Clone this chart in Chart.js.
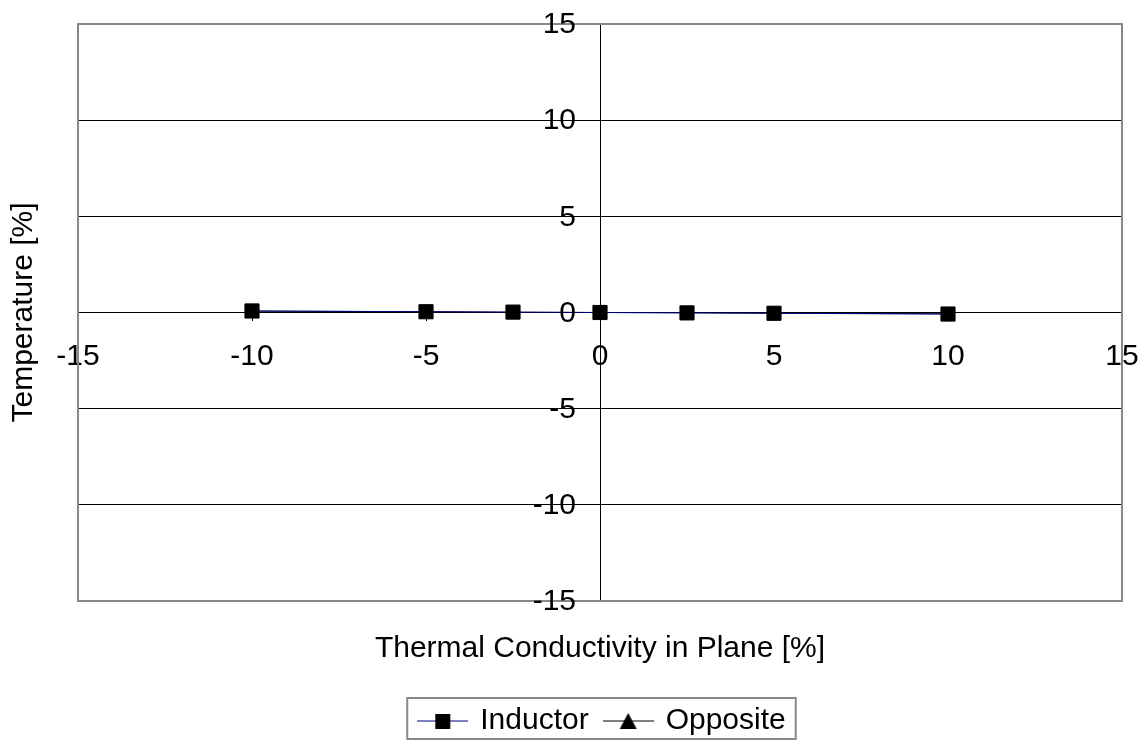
<!DOCTYPE html>
<html>
<head>
<meta charset="utf-8">
<script src="https://cdn.jsdelivr.net/npm/chart.js@4/dist/chart.umd.min.js"></script>
<style>
  html, body { margin: 0; padding: 0; background: #fff; }
  #wrap { width: 1146px; height: 740px; }
</style>
</head>
<body>
<div id="wrap"><canvas id="chart" width="1146" height="740"></canvas></div>
<script>
// change in thermal conductivity in plane [%]
const conductivity = [-10, -5, -2.5, 0, 2.5, 5, 10];
// resulting temperature change [%]
const inductor = [0.08, 0.04, 0.02, 0, -0.02, -0.04, -0.08];
const opposite = [0.07, 0.04, 0.01, 0, -0.01, -0.03, -0.07];

const axisMin = -15;
const axisMax = 15;
const axisStep = 5;

const FONT = "'Liberation Sans', Arial, sans-serif";

function points(ys) {
    return conductivity.map((x, i) => ({ x: x, y: ys[i] }));
}

// legend swatch: short line with the marker in the middle
function swatch(lineColor, shape) {
    const c = document.createElement("canvas");
    c.width = 51;
    c.height = 30;
    const g = c.getContext("2d");
    g.strokeStyle = lineColor;
    g.lineWidth = 1;
    g.beginPath();
    g.moveTo(0, 15);
    g.lineTo(51, 15);
    g.stroke();
    g.fillStyle = "#000";
    g.beginPath();
    if (shape === "rect") {
        g.rect(18, 8, 15, 15);
    } else {
        g.moveTo(25.5, 7);
        g.lineTo(34, 23);
        g.lineTo(17, 23);
        g.closePath();
    }
    g.fill();
    return c;
}

const icons = [swatch("#000080", "rect"), swatch("#000000", "triangle")];

const framePlugin = {
    id: "frame",
    afterLayout(chart) {
        // nudge the legend a little to the right
        chart.legend.left += 3;
        chart.legend.right += 3;
    },
    beforeDatasetsDraw(chart) {
        const { ctx, chartArea: a } = chart;
        ctx.save();
        ctx.strokeStyle = "#888";
        ctx.lineWidth = 2;
        ctx.strokeRect(a.left, a.top, a.right - a.left, a.bottom - a.top);
        ctx.restore();
    },
    afterDraw(chart) {
        const ctx = chart.ctx;

        // y tick labels sit left of the vertical axis, clear of the tick marks
        const ys = chart.scales.y;
        const x0 = chart.scales.x.getPixelForValue(0);
        ctx.save();
        ctx.fillStyle = "#000";
        ctx.font = "30px " + FONT;
        ctx.textAlign = "right";
        ctx.textBaseline = "middle";
        ys.ticks.forEach((t) => {
            const label = t.label !== undefined ? t.label : String(t.value);
            ctx.fillText(label, x0 - 24, ys.getPixelForValue(t.value) + 1);
        });
        ctx.restore();

        // frame around the legend
        const boxes = chart.legend.legendHitBoxes;
        if (!boxes || !boxes.length) return;
        const first = boxes[0];
        const last = boxes[boxes.length - 1];
        const mid = first.top + first.height / 2;
        ctx.save();
        ctx.strokeStyle = "#888";
        ctx.lineWidth = 2;
        ctx.strokeRect(first.left - 13, mid - 23, last.left + last.width + 10 - (first.left - 13), 41);
        ctx.restore();
    }
};

new Chart(document.getElementById("chart"), {
    type: "scatter",
    data: {
        datasets: [
            {
                label: "Inductor",
                data: points(inductor),
                showLine: true,
                borderColor: "#000080",
                borderWidth: 1,
                pointStyle: "rect",
                pointRadius: 10,
                pointBackgroundColor: "#000",
                pointBorderColor: "#000",
                pointBorderWidth: 1,
                order: 0
            },
            {
                label: "Opposite",
                data: points(opposite),
                showLine: true,
                borderColor: "#000",
                borderWidth: 1,
                pointStyle: "triangle",
                pointRadius: 7,
                pointBackgroundColor: "#000",
                pointBorderColor: "#000",
                pointBorderWidth: 1,
                order: 1
            }
        ]
    },
    options: {
        responsive: false,
        animation: false,
        devicePixelRatio: 1,
        layout: {
            padding: { top: 24, right: 24, left: 0, bottom: -6 }
        },
        scales: {
            x: {
                type: "linear",
                position: { y: 0 },
                min: axisMin,
                max: axisMax,
                ticks: {
                    stepSize: axisStep,
                    color: "#000",
                    padding: 6,
                    maxRotation: 0,
                    autoSkip: false,
                    font: { family: FONT, size: 30, lineHeight: 2 }
                },
                grid: {
                    drawOnChartArea: false,
                    drawTicks: true,
                    tickLength: 8,
                    color: "#000",
                    tickColor: "#000"
                },
                border: { color: "#000", width: 1 }
            },
            y: {
                type: "linear",
                position: { x: 0 },
                min: axisMin,
                max: axisMax,
                ticks: {
                    stepSize: axisStep,
                    display: false,
                    padding: 0
                },
                grid: {
                    color: (c) => (c.tick && Math.abs(c.tick.value) === axisMax ? "rgba(0,0,0,0)" : "#000"),
                    tickColor: "#000",
                    tickLength: 10
                },
                border: { color: "#000", width: 1 }
            }
        },
        plugins: {
            tooltip: { enabled: false },
            title: {
                display: true,
                position: "left",
                fullSize: false,
                text: "Temperature [%]",
                color: "#000",
                font: { family: FONT, size: 30, weight: "normal", lineHeight: 1.2 },
                padding: { top: 6, bottom: 36 }
            },
            subtitle: {
                display: true,
                position: "bottom",
                fullSize: false,
                weight: 500,
                text: "Thermal Conductivity in Plane [%]",
                color: "#000",
                font: { family: FONT, size: 30, weight: "normal", lineHeight: 1.2 },
                padding: { top: 30, bottom: 22 }
            },
            legend: {
                position: "bottom",
                fullSize: false,
                weight: 1000,
                labels: {
                    color: "#000",
                    font: { family: FONT, size: 30 },
                    padding: 17,
                    usePointStyle: true,
                    pointStyleWidth: 45,
                    generateLabels(chart) {
                        return Chart.defaults.plugins.legend.labels.generateLabels(chart)
                            .map((item) => Object.assign(item, { pointStyle: icons[item.datasetIndex] }));
                    }
                }
            }
        }
    },
    plugins: [framePlugin]
});
</script>
</body>
</html>
